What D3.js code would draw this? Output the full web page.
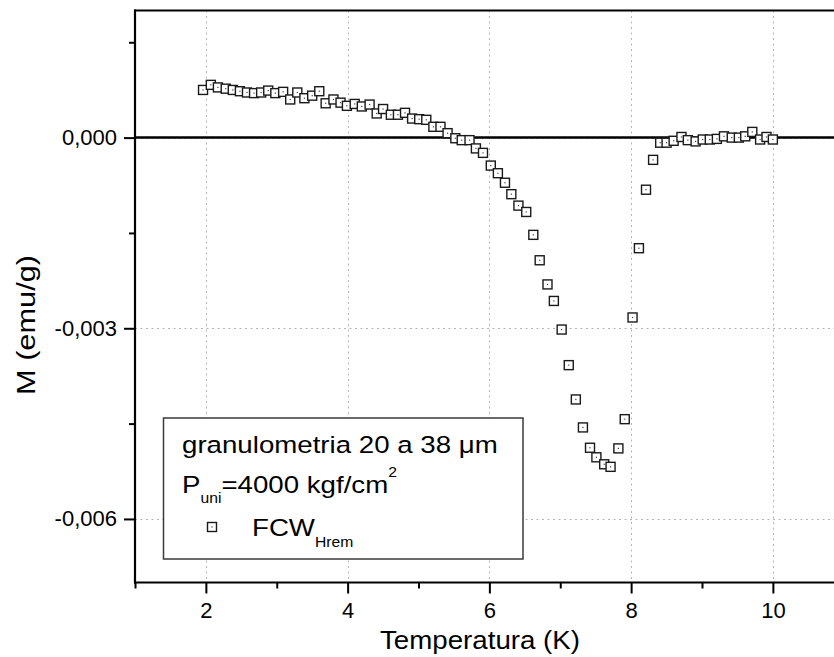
<!DOCTYPE html>
<html>
<head>
<meta charset="utf-8">
<script src="https://cdn.jsdelivr.net/npm/d3@7"></script>
<style>
  html, body { margin: 0; padding: 0; background: #fff; }
  svg { display: block; }
  text { font-family: Arial, "Liberation Sans", Helvetica, sans-serif; fill: #000; }
</style>
</head>
<body>
<svg id="chart" width="834" height="657"></svg>
<script>
// ---- Data ----
const temperature = [
  1.96, 2.07, 2.17, 2.28, 2.38, 2.48, 2.58, 2.68, 2.78, 2.88,
  2.98, 3.09, 3.19, 3.29, 3.39, 3.50, 3.60, 3.69, 3.80, 3.90,
  3.99, 4.10, 4.20, 4.31, 4.41, 4.50, 4.61, 4.71, 4.81, 4.91,
  5.01, 5.11, 5.21, 5.31, 5.41, 5.52, 5.61, 5.72, 5.81, 5.91,
  6.02, 6.12, 6.22, 6.31, 6.41, 6.52, 6.62, 6.71, 6.82, 6.91,
  7.02, 7.12, 7.22, 7.32, 7.42, 7.51, 7.62, 7.71, 7.82, 7.91,
  8.02, 8.11, 8.21, 8.31, 8.41, 8.50, 8.60, 8.71, 8.80, 8.91,
  9.01, 9.11, 9.21, 9.31, 9.42, 9.52, 9.61, 9.71, 9.82, 9.91,
  10.00
];
const magnetization = [
  0.00075, 0.00083, 0.00079, 0.00077, 0.00075, 0.00073, 0.00071, 0.00070, 0.00071, 0.00074,
  0.00070, 0.00072, 0.00060, 0.00071, 0.00062, 0.00066, 0.00073, 0.00054, 0.00060, 0.00055,
  0.00050, 0.00053, 0.00049, 0.00052, 0.00038, 0.00045, 0.00036, 0.00036, 0.00039, 0.00030,
  0.00029, 0.00028, 0.00017, 0.00017, 0.00007, -0.00001, -0.00004, -0.00004, -0.00017, -0.00024,
  -0.00044, -0.00056, -0.00071, -0.00089, -0.00107, -0.00117, -0.00153, -0.00193, -0.00231, -0.00257,
  -0.00302, -0.00358, -0.00412, -0.00456, -0.00488, -0.00503, -0.00514, -0.00518, -0.00489, -0.00443,
  -0.00283, -0.00174, -0.00082, -0.00035, -0.00008, -0.00008, -0.00005, 0.00001, -0.00004, -0.00006,
  -0.00003, -0.00003, -0.00002, 0.00002, 0.00000, 0.00000, 0.00002, 0.00009, -0.00003, 0.00001,
  -0.00003
];
const xMajorTicks = [2, 4, 6, 8, 10];
const xMinorTicks = [1, 3, 5, 7, 9, 11];
const yMajorTicks = [0, -0.003, -0.006];
const yMinorTicks = [0.0015, -0.0015, -0.0045];
const xTitle = "Temperatura (K)";
const yTitle = "M (emu/g)";
const legendLine1 = "granulometria 20 a 38 \u03BCm";
const seriesName = "FCW";
const seriesSub = "Hrem";

// ---- Layout ----
const W = 834, H = 657;
const plotLeft = 135, plotTop = 10.5, plotBottom = 582.5;
const pxPerK = 70.875;

const svg = d3.select("#chart");
const x = d3.scaleLinear().domain([1, 11]).range([plotLeft, plotLeft + 10 * pxPerK]);
const y = d3.scaleLinear().domain([-0.007, 0.002]).range([plotBottom, plotTop]);

const locale = d3.formatLocale({decimal: ",", thousands: ".", grouping: [3], currency: ["", ""], minus: "-"});
const fmt = locale.format(".3f");

// grid
const grid = svg.append("g").attr("stroke", "#b4b4b4").attr("stroke-width", 1).attr("stroke-dasharray", "2,3.5");
grid.selectAll("line.vx").data(xMajorTicks).join("line")
  .attr("x1", d => Math.round(x(d)) + 0.5).attr("x2", d => Math.round(x(d)) + 0.5)
  .attr("y1", plotTop).attr("y2", plotBottom);
grid.selectAll("line.hy").data(yMajorTicks).join("line")
  .attr("x1", plotLeft).attr("x2", W)
  .attr("y1", d => Math.round(y(d)) + 0.5).attr("y2", d => Math.round(y(d)) + 0.5);

// zero line
svg.append("line").attr("x1", plotLeft).attr("x2", W)
  .attr("y1", y(0)).attr("y2", y(0)).attr("stroke", "#000").attr("stroke-width", 2.5);

// axes
const xAxisMajor = d3.axisBottom(x).tickValues(xMajorTicks).tickSize(11).tickPadding(9).tickSizeOuter(0).tickFormat(d3.format("d"));
const xAxisMinor = d3.axisBottom(x).tickValues(xMinorTicks).tickSize(6).tickSizeOuter(0).tickFormat("");
const yAxisMajor = d3.axisLeft(y).tickValues(yMajorTicks).tickSize(11).tickPadding(7).tickSizeOuter(0).tickFormat(fmt);
const yAxisMinor = d3.axisLeft(y).tickValues(yMinorTicks).tickSize(6).tickSizeOuter(0).tickFormat("");

function styleAxis(g) {
  g.selectAll("path.domain").remove();
  g.selectAll(".tick line").attr("stroke", "#000").attr("stroke-width", 2);
  g.selectAll(".tick text").attr("font-size", 22).attr("fill", "#000")
    .attr("font-family", "Arial, 'Liberation Sans', sans-serif");
}
svg.append("g").attr("transform", `translate(0,${plotBottom})`).call(xAxisMajor).call(styleAxis);
svg.append("g").attr("transform", `translate(0,${plotBottom})`).call(xAxisMinor).call(styleAxis);
svg.append("g").attr("transform", `translate(${plotLeft},0)`).call(yAxisMajor).call(styleAxis);
svg.append("g").attr("transform", `translate(${plotLeft},0)`).call(yAxisMinor).call(styleAxis);

// frame lines (left, bottom, top)
svg.append("line").attr("x1", plotLeft).attr("x2", plotLeft).attr("y1", plotTop - 1).attr("y2", plotBottom + 1)
  .attr("stroke", "#000").attr("stroke-width", 2.2);
svg.append("line").attr("x1", plotLeft - 1).attr("x2", W).attr("y1", plotBottom).attr("y2", plotBottom)
  .attr("stroke", "#000").attr("stroke-width", 2.2);
svg.append("line").attr("x1", plotLeft - 1).attr("x2", W).attr("y1", plotTop).attr("y2", plotTop)
  .attr("stroke", "#000").attr("stroke-width", 2.2);

// data markers
const pts = temperature.map((t, i) => ({t, m: magnetization[i]}));
const S = 9;
function marker(sel) {
  sel.append("rect").attr("x", -S / 2).attr("y", -S / 2).attr("width", S).attr("height", S)
    .attr("fill", "#fff").attr("stroke", "#1a1a1a").attr("stroke-width", 1.4);
  sel.append("rect").attr("x", -0.6).attr("y", -0.6).attr("width", 1.2).attr("height", 1.2)
    .attr("fill", "#444");
}
svg.append("g").selectAll("g").data(pts).join("g")
  .attr("transform", d => `translate(${x(d.t)},${y(d.m)})`)
  .each(function() { marker(d3.select(this)); });

// legend
const lg = svg.append("g");
lg.append("rect").attr("x", 163.5).attr("y", 418).attr("width", 359.5).attr("height", 141)
  .attr("fill", "#fff").attr("stroke", "#3a3a3a").attr("stroke-width", 1.5);
const FS = 24.7, SUB = 14, SX = 1.12;
lg.append("g").attr("transform", `translate(182,453.3) scale(${SX},1)`)
  .append("text").attr("font-size", FS).text(legendLine1);
const t2 = lg.append("g").attr("transform", `translate(182,493.3) scale(${SX},1)`).append("text").attr("font-size", FS);
t2.append("tspan").text("P");
t2.append("tspan").attr("font-size", SUB).attr("dy", 9.5).text("uni");
t2.append("tspan").attr("font-size", FS).attr("dy", -9.5).text("=4000 kgf/cm");
t2.append("tspan").attr("font-size", SUB).attr("dy", -16).text("2");
lg.append("g").attr("transform", "translate(212,527)").each(function() { marker(d3.select(this)); });
const t3 = lg.append("g").attr("transform", `translate(252,536) scale(${SX},1)`).append("text").attr("font-size", FS);
t3.append("tspan").text(seriesName);
t3.append("tspan").attr("font-size", SUB).attr("dy", 10.7).text(seriesSub);

// axis titles
svg.append("text").attr("x", 480).attr("y", 649).attr("text-anchor", "middle")
  .attr("font-size", 25).attr("textLength", 200).attr("lengthAdjust", "spacingAndGlyphs").text(xTitle);
svg.append("text").attr("transform", "translate(35,325) rotate(-90)").attr("text-anchor", "middle")
  .attr("font-size", 25).attr("textLength", 140).attr("lengthAdjust", "spacingAndGlyphs").text(yTitle);
</script>
</body>
</html>
